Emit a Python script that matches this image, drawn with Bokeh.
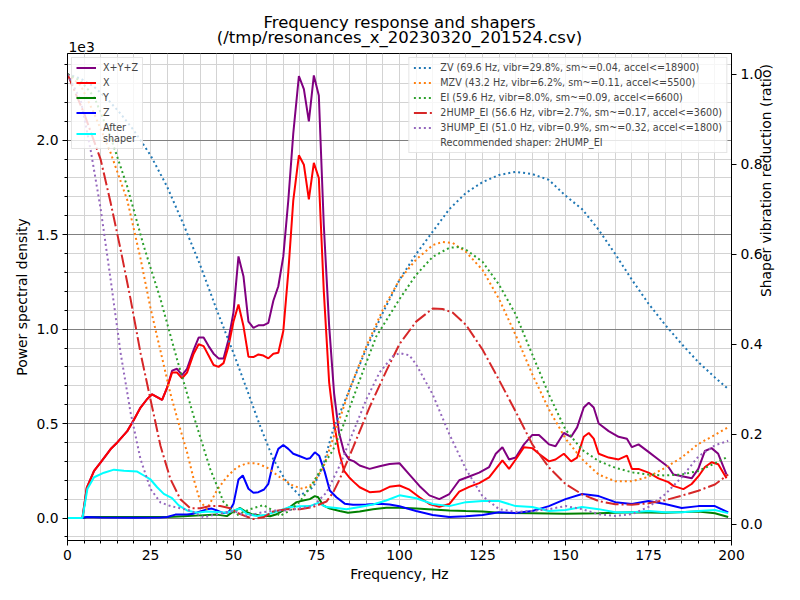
import math
from bokeh.plotting import figure
from bokeh.models import (Range1d, LinearAxis, FixedTicker, Legend, LegendItem, Title,
                          PrintfTickFormatter)
from bokeh.embed import file_html
from bokeh.resources import INLINE

FONT = "DejaVu Sans"

# power spectral density, in units of 1e3
psd_freqs = [0, 2, 4.5, 5.8, 8, 10, 13, 15, 18, 20, 22, 24, 25.5, 27, 28.5, 30, 31.5, 33, 34.5,
             36, 38, 39.5, 41, 42.5, 44, 45.5, 47, 48.5, 50, 51.5, 53, 54.5, 56, 57.5, 59, 60.5,
             62, 63.5, 65, 66.5, 68, 69.7, 71.2, 72.7, 74.2, 75.7, 77.2, 78.8, 80.3, 81.8, 83.3,
             84.8, 86.3, 88, 91, 94, 97, 100, 103, 106, 109, 112, 115, 118, 121, 124, 127, 129,
             131, 133, 135, 137.5, 140, 142, 145, 147, 149.5, 151.7, 153.5, 155.5, 157, 158.5,
             160, 163, 166, 168.5, 170, 172, 175, 178, 181, 182.5, 185.5, 188, 190, 192, 194,
             196, 198.5]
psd_xyz = [0, 0, 0, 0.16, 0.25, 0.295, 0.365, 0.40, 0.46, 0.52, 0.585, 0.63, 0.655, 0.64, 0.625,
           0.69, 0.78, 0.79, 0.756, 0.79, 0.89, 0.955, 0.955, 0.91, 0.87, 0.845, 0.845, 0.945,
           1.09, 1.385, 1.28, 1.04, 1.007, 1.02, 1.02, 1.033, 1.15, 1.227, 1.385, 1.68, 2.035,
           2.34, 2.27, 2.10, 2.343, 2.237, 1.55, 1.02, 0.66, 0.45, 0.35, 0.31, 0.30, 0.278, 0.26,
           0.274, 0.286, 0.29, 0.23, 0.17, 0.12, 0.10, 0.127, 0.20, 0.22, 0.24, 0.27, 0.34, 0.375,
           0.31, 0.32, 0.39, 0.44, 0.44, 0.39, 0.38, 0.45, 0.43, 0.48, 0.585, 0.61, 0.585, 0.50,
           0.46, 0.43, 0.42, 0.375, 0.39, 0.35, 0.31, 0.27, 0.23, 0.22, 0.21, 0.26, 0.355, 0.37,
           0.34, 0.23]
psd_x = [0, 0, 0, 0.16, 0.25, 0.295, 0.365, 0.40, 0.46, 0.52, 0.585, 0.63, 0.655, 0.64, 0.625,
         0.69, 0.77, 0.77, 0.74, 0.77, 0.87, 0.92, 0.91, 0.86, 0.81, 0.80, 0.82, 0.91, 1.04,
         1.13, 1.016, 0.854, 0.852, 0.866, 0.86, 0.845, 0.87, 0.875, 0.99, 1.30, 1.68, 1.92,
         1.87, 1.687, 1.88, 1.80, 1.20, 0.72, 0.50, 0.35, 0.25, 0.216, 0.19, 0.163, 0.137, 0.14,
         0.165, 0.172, 0.15, 0.11, 0.074, 0.06, 0.074, 0.14, 0.165, 0.185, 0.215, 0.26, 0.305,
         0.26, 0.31, 0.375, 0.37, 0.34, 0.30, 0.31, 0.34, 0.30, 0.32, 0.43, 0.45, 0.42, 0.34,
         0.32, 0.31, 0.33, 0.26, 0.26, 0.24, 0.21, 0.19, 0.17, 0.153, 0.18, 0.22, 0.27, 0.295,
         0.285, 0.21]

y_freqs = [0, 4.5, 5.8, 30, 35, 40, 45, 48, 50, 52, 53.5, 55.5, 58, 61, 63, 65, 67, 69, 71, 73,
           74.5, 75.5, 77, 79, 82, 84.5, 88, 92, 96, 100, 105, 110, 115, 120, 125, 130, 140, 150,
           160, 170, 180, 190, 195, 199]
psd_y = [0, 0, 0.005, 0.005, 0.01, 0.014, 0.018, 0.01, 0.035, 0.053, 0.035, 0.02, 0.014, 0.009,
         0.02, 0.04, 0.058, 0.084, 0.093, 0.10, 0.116, 0.11, 0.067, 0.05, 0.037, 0.028, 0.035,
         0.046, 0.054, 0.054, 0.05, 0.045, 0.04, 0.037, 0.035, 0.028, 0.025, 0.022, 0.025, 0.03,
         0.028, 0.035, 0.025, 0.005]

z_freqs = [0, 4.5, 5.8, 10, 20, 28, 30, 32.5, 36, 38, 40, 42, 43.5, 45, 47, 48.5, 50, 51.5, 52.8,
           54.5, 56, 57.5, 59.2, 60.5, 62, 63.5, 65, 66.5, 68, 70, 72, 73, 74.5, 75.8, 77.5, 79,
           81, 83.5, 86, 90, 94, 97, 100, 105, 110, 115, 120, 125, 130, 135, 140, 145, 150, 155,
           160, 165, 170, 175, 180, 185, 190, 195, 199]
psd_z = [0, 0, 0.005, 0.003, 0.002, 0.003, 0.005, 0.018, 0.019, 0.023, 0.035, 0.046, 0.05, 0.04,
         0.026, 0.03, 0.075, 0.204, 0.225, 0.155, 0.134, 0.137, 0.151, 0.181, 0.295, 0.366,
         0.387, 0.366, 0.34, 0.327, 0.313, 0.316, 0.348, 0.33, 0.243, 0.146, 0.11, 0.076, 0.07,
         0.072, 0.076, 0.072, 0.062, 0.037, 0.016, 0.005, 0.01, 0.016, 0.03, 0.026, 0.037, 0.063,
         0.1, 0.127, 0.116, 0.084, 0.074, 0.09, 0.074, 0.053, 0.063, 0.063, 0.03]

after_freqs = [0, 4.5, 6, 8, 11, 14, 17, 21, 23, 25, 27, 29, 31.5, 33.5, 36, 39, 42, 45, 48, 50,
               52, 54, 57, 60, 64, 67, 70, 73, 75.5, 78, 81, 84, 88, 92, 96, 100, 105, 110, 115,
               120, 125, 130, 135, 140, 145, 150, 155, 160, 165, 170, 175, 180, 185, 190, 195, 199]
psd_after = [0, 0, 0.155, 0.216, 0.24, 0.256, 0.25, 0.246, 0.225, 0.204, 0.163, 0.128, 0.105,
             0.067, 0.04, 0.028, 0.035, 0.032, 0.028, 0.04, 0.05, 0.023, 0.01, 0.018, 0.04, 0.058,
             0.062, 0.063, 0.08, 0.058, 0.053, 0.046, 0.058, 0.072, 0.093, 0.12, 0.105, 0.074,
             0.063, 0.084, 0.09, 0.09, 0.063, 0.058, 0.037, 0.042, 0.058, 0.047, 0.03, 0.03, 0.037,
             0.03, 0.03, 0.037, 0.042, 0.026]

# shaper vibration reduction ratios
zv_freqs = [0, 4, 8, 12, 16, 20, 25, 30, 35, 40, 45, 50, 54, 58, 62, 66, 70, 74, 77, 80, 85, 90,
            95, 100, 105, 110, 115, 120, 125, 130, 135, 140, 145, 150, 155, 160, 165, 170, 175,
            180, 185, 190, 195, 199]
zv_vals = [1.0, 0.99, 0.972, 0.945, 0.912, 0.875, 0.82, 0.75, 0.665, 0.575, 0.475, 0.38, 0.30,
           0.218, 0.144, 0.093, 0.063, 0.082, 0.13, 0.21, 0.30, 0.39, 0.47, 0.543, 0.60, 0.65,
           0.70, 0.736, 0.76, 0.776, 0.783, 0.778, 0.765, 0.73, 0.70, 0.654, 0.60, 0.543, 0.49,
           0.443, 0.40, 0.36, 0.326, 0.30]

mzv_freqs = [0, 4, 8, 13, 18, 22, 25, 28, 31, 34, 36, 38, 40, 42, 45, 48, 51, 54, 57, 60, 64, 68,
             71, 74, 77, 80, 85, 90, 95, 100, 105, 110, 113, 116, 120, 125, 130, 135, 140, 145,
             150, 155, 160, 165, 170, 175, 180, 185, 190, 195, 199]
mzv_vals = [1.0, 0.975, 0.913, 0.825, 0.72, 0.59, 0.48, 0.385, 0.29, 0.21, 0.16, 0.10, 0.05,
            0.033, 0.075, 0.105, 0.126, 0.135, 0.135, 0.126, 0.104, 0.085, 0.078, 0.09, 0.125,
            0.19, 0.30, 0.395, 0.477, 0.543, 0.588, 0.62, 0.627, 0.625, 0.605, 0.565, 0.50, 0.42,
            0.333, 0.255, 0.19, 0.144, 0.11, 0.095, 0.095, 0.105, 0.125, 0.148, 0.178, 0.198,
            0.215]

ei_freqs = [0, 4, 8, 13, 18, 23, 28, 33, 38, 43, 47, 51, 55, 59, 62, 64, 67, 70, 73, 77, 80, 83,
            88, 93, 100, 105, 110, 115, 118, 120, 125, 130, 135, 140, 145, 150, 155, 160, 165,
            170, 175, 180, 185, 190, 195, 199]
ei_vals = [1.0, 0.985, 0.95, 0.86, 0.75, 0.617, 0.50, 0.366, 0.24, 0.122, 0.049, 0.02, 0.033,
           0.042, 0.03, 0.018, 0.03, 0.05, 0.08, 0.13, 0.165, 0.218, 0.32, 0.417, 0.50, 0.554,
           0.594, 0.614, 0.616, 0.61, 0.583, 0.532, 0.466, 0.377, 0.288, 0.21, 0.165, 0.14, 0.125,
           0.115, 0.11, 0.108, 0.11, 0.118, 0.135, 0.15]

hump2_freqs = [0, 5, 10, 13, 16, 19, 22, 25, 28, 31, 34, 37, 40, 43, 46, 49, 52, 56, 59, 62, 66,
               70, 74, 78, 80, 82, 86, 91, 96, 100, 105, 110, 113, 116, 120, 125, 130, 135, 140,
               145, 150, 155, 160, 165, 170, 175, 180, 185, 190, 195, 199]
hump2_vals = [1.0, 0.913, 0.81, 0.714, 0.61, 0.50, 0.38, 0.277, 0.174, 0.10, 0.055, 0.035, 0.035,
              0.04, 0.04, 0.035, 0.022, 0.011, 0.015, 0.028, 0.033, 0.033, 0.038, 0.05, 0.07,
              0.10, 0.17, 0.26, 0.34, 0.40, 0.45, 0.479, 0.478, 0.47, 0.443, 0.388, 0.32, 0.25,
              0.177, 0.126, 0.089, 0.066, 0.051, 0.044, 0.043, 0.046, 0.053, 0.063, 0.074, 0.088,
              0.11]

hump3_freqs = [0, 4, 7, 10, 13, 16, 19, 22, 25, 28, 31, 34, 37, 41, 45, 50, 54, 58, 62, 66, 70,
               74, 78, 82, 86, 90, 94, 98, 100, 103, 105, 110, 115, 120, 125, 130, 135, 140, 145,
               150, 155, 160, 165, 170, 175, 180, 185, 190, 195, 199]
hump3_vals = [1.0, 0.942, 0.83, 0.70, 0.543, 0.38, 0.248, 0.144, 0.078, 0.048, 0.04, 0.035, 0.03,
              0.015, 0.022, 0.029, 0.018, 0.025, 0.03, 0.03, 0.035, 0.04, 0.07, 0.13, 0.204,
              0.277, 0.337, 0.373, 0.38, 0.375, 0.355, 0.288, 0.20, 0.122, 0.062, 0.033, 0.027,
              0.029, 0.033, 0.04, 0.033, 0.022, 0.018, 0.022, 0.038, 0.066, 0.104, 0.15, 0.175,
              0.185]

shaper_labels = [
    "ZV (69.6 Hz, vibr=29.8%, sm~=0.04, accel<=18900)",
    "MZV (43.2 Hz, vibr=6.2%, sm~=0.11, accel<=5500)",
    "EI (59.6 Hz, vibr=8.0%, sm~=0.09, accel<=6600)",
    "2HUMP_EI (56.6 Hz, vibr=2.7%, sm~=0.17, accel<=3600)",
    "3HUMP_EI (51.0 Hz, vibr=0.9%, sm~=0.32, accel<=1800)",
]
recommended = "Recommended shaper: 2HUMP_EI"

freq_ticks = [0, 25, 50, 75, 100, 125, 150, 175, 200]
psd_ticks = [0.0, 0.5, 1.0, 1.5, 2.0]
ratio_ticks = [0.0, 0.2, 0.4, 0.6, 0.8, 1.0]

p = figure(width=784, height=584, output_backend="svg", toolbar_location=None,
           x_range=Range1d(0, 200), y_range=Range1d(-0.119, 2.459),
           min_border_left=67, min_border_right=51, min_border_top=53, min_border_bottom=42,
           x_axis_label="Frequency, Hz", y_axis_label="Power spectral density")
p.extra_y_ranges = {"ratio": Range1d(-0.0366, 1.046)}

# rows above the frame, nearest first: the "1e3" offset text, then the two title lines;
# the second title line overlaps the offset row (negative standoff)
t_offset = Title(text="1e3", align="left", offset=1, standoff=4,
                 text_font_size="13.9px")
t_file = Title(text="(/tmp/resonances_x_20230320_201524.csv)", align="center", standoff=-19,
               text_font_size="16.5px")
p.add_layout(t_offset, "above")
p.add_layout(t_file, "above")
p.title.text = "Frequency response and shapers"
p.title.align = "center"
p.title.standoff = 7
p.title.text_font_size = "16.5px"
for t in (t_offset, t_file, p.title):
    t.text_font = FONT
    t.text_font_style = "normal"
    t.text_color = "black"

p.outline_line_color = "black"
p.outline_line_alpha = 1

minor_freq = list(range(0, 201, 5))
minor_psd = [i / 10 for i in range(-1, 25)]

p.xaxis.ticker = FixedTicker(ticks=freq_ticks, minor_ticks=minor_freq)
p.yaxis.ticker = FixedTicker(ticks=psd_ticks, minor_ticks=minor_psd)
p.yaxis.formatter = PrintfTickFormatter(format="%.1f")

p.xgrid.ticker = FixedTicker(ticks=minor_freq)
p.xgrid.grid_line_color = "#d3d3d3"
p.ygrid.ticker = FixedTicker(ticks=psd_ticks, minor_ticks=minor_psd)
p.ygrid.grid_line_color = "#808080"
p.ygrid.minor_grid_line_color = "#d3d3d3"

ax2 = LinearAxis(y_range_name="ratio", axis_label="Shaper vibration reduction (ratio)",
                 ticker=FixedTicker(ticks=ratio_ticks, minor_ticks=[]),
                 formatter=PrintfTickFormatter(format="%.1f"))
if "axis_label_orientation" in ax2.properties():
    ax2.axis_label_orientation = math.pi / 2
p.add_layout(ax2, "right")

for ax in p.axis:
    ax.axis_line_color = "black"
    ax.major_tick_line_color = "black"
    ax.minor_tick_line_color = "black"
    ax.major_tick_out = 5
    ax.major_tick_in = 0
    ax.minor_tick_out = 3
    ax.minor_tick_in = 0
    ax.major_label_standoff = 4
    ax.major_label_text_font = FONT
    ax.major_label_text_font_size = "13.9px"
    ax.major_label_text_color = "black"
    ax.axis_label_text_font = FONT
    ax.axis_label_text_font_size = "13.9px"
    ax.axis_label_text_font_style = "normal"
    ax.axis_label_text_color = "black"
    ax.axis_label_standoff = 3
ax2.major_label_standoff = 4
ax2.axis_label_standoff = 0

r_xyz = p.line(psd_freqs, psd_xyz, line_color="purple", line_width=2)
r_x = p.line(psd_freqs, psd_x, line_color="red", line_width=2)
r_y = p.line(y_freqs, psd_y, line_color="green", line_width=2)
r_z = p.line(z_freqs, psd_z, line_color="blue", line_width=2)
r_after = p.line(after_freqs, psd_after, line_color="cyan", line_width=2)

dotted = "2 3"
shaper_data = [
    (zv_freqs, zv_vals, "#1f77b4", dotted),
    (mzv_freqs, mzv_vals, "#ff7f0e", dotted),
    (ei_freqs, ei_vals, "#2ca02c", dotted),
    (hump2_freqs, hump2_vals, "#d62728", "13 3 2 3"),
    (hump3_freqs, hump3_vals, "#9467bd", dotted),
]
shaper_items = []
for (fx, vals, color, dash), label in zip(shaper_data, shaper_labels):
    r = p.line(fx, vals, line_color=color, line_width=2, line_dash=dash, y_range_name="ratio")
    shaper_items.append(LegendItem(label=label, renderers=[r]))
r_rec = p.line([], [], line_alpha=0, y_range_name="ratio")
shaper_items.append(LegendItem(label=recommended, renderers=[r_rec]))

leg1 = Legend(items=[
    LegendItem(label="X+Y+Z", renderers=[r_xyz]),
    LegendItem(label="X", renderers=[r_x]),
    LegendItem(label="Y", renderers=[r_y]),
    LegendItem(label="Z", renderers=[r_z]),
    LegendItem(label="After\nshaper", renderers=[r_after]),
], location="top_left")
leg2 = Legend(items=shaper_items, location="top_right")

for leg in (leg1, leg2):
    leg.label_text_font = FONT
    leg.label_text_font_size = "9.6px"
    leg.glyph_width = 20
    leg.glyph_height = 11
    leg.label_height = 11
    leg.spacing = 4
    leg.padding = 4
    leg.margin = 4
    leg.label_standoff = 7
    leg.border_line_color = "#cccccc"
    leg.border_line_width = 1
    leg.background_fill_alpha = 0.8
    p.add_layout(leg)

open("out.html", "w").write(file_html(p, INLINE))
